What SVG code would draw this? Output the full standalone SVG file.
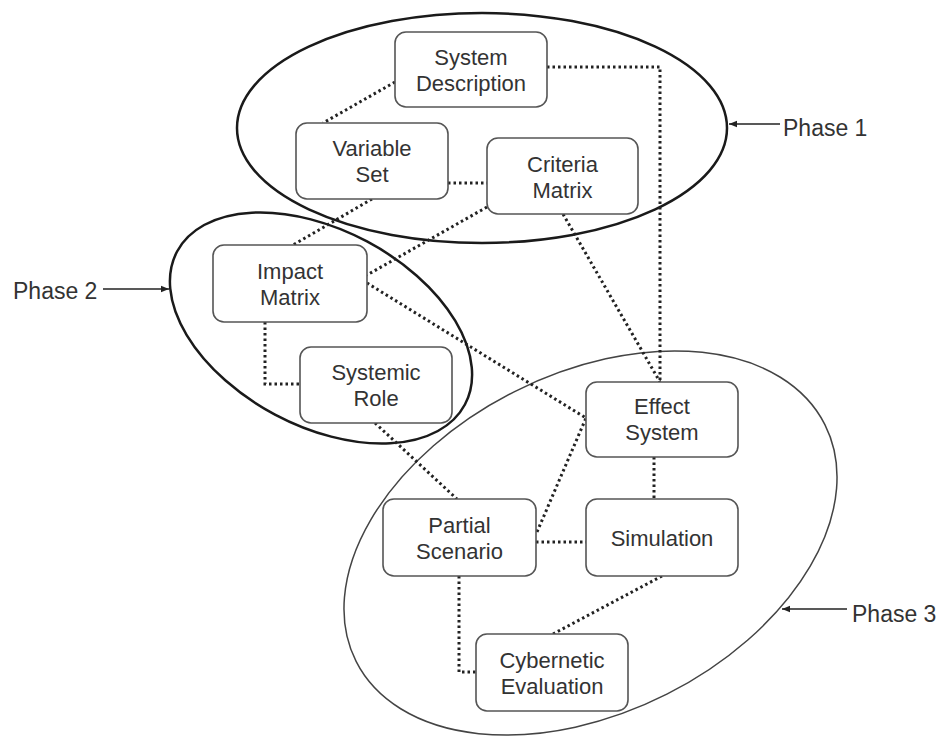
<svg xmlns="http://www.w3.org/2000/svg" width="939" height="736" viewBox="0 0 939 736">
  <defs>
    <style>
      .phase-thick { fill: none; stroke: #1a1a1a; stroke-width: 2.5; }
      .phase-thin { fill: none; stroke: #444; stroke-width: 1.5; }
      .box { fill: #fff; stroke: #555; stroke-width: 1.6; }
      .label { font-family: "Liberation Sans", Arial, sans-serif; font-size: 22px; fill: #333; text-anchor: middle; }
      .plabel { font-family: "Liberation Sans", Arial, sans-serif; font-size: 23px; fill: #333; }
      .conn { fill: none; stroke: #222; stroke-width: 3; stroke-dasharray: 2.5 3; }
      .arrow { fill: none; stroke: #222; stroke-width: 1.5; }
    </style>
    <marker id="ah" viewBox="0 0 10 10" refX="10" refY="5" markerWidth="8" markerHeight="8" markerUnits="userSpaceOnUse" orient="auto">
      <path d="M0,1 L10,5 L0,9 Z" fill="#222"/>
    </marker>
  </defs>
  <rect width="939" height="736" fill="#fff"/>

  <g id="phases">
    <ellipse id="phase1-ellipse" class="phase-thick" cx="482" cy="128" rx="245" ry="115"/>
    <ellipse id="phase2-ellipse" class="phase-thick" cx="321" cy="328" rx="163" ry="98" transform="rotate(28 321 328)"/>
    <ellipse id="phase3-ellipse" class="phase-thin" cx="590.5" cy="543" rx="262.6" ry="169.4" transform="rotate(-26.8 590.5 543)"/>
  </g>

  <g id="phase-labels">
    <g id="phase1-label">
      <line class="arrow" x1="780" y1="124" x2="729" y2="124" marker-end="url(#ah)"/>
      <text class="plabel" x="783" y="136">Phase 1</text>
    </g>
    <g id="phase2-label">
      <line class="arrow" x1="103" y1="289" x2="169" y2="289" marker-end="url(#ah)"/>
      <text class="plabel" x="13" y="299">Phase 2</text>
    </g>
    <g id="phase3-label">
      <line class="arrow" x1="847" y1="609" x2="782" y2="609" marker-end="url(#ah)"/>
      <text class="plabel" x="852" y="622">Phase 3</text>
    </g>
  </g>

  <g id="connectors">
    <line class="conn" x1="395" y1="82" x2="323" y2="123"/>
    <polyline class="conn" points="547,67 660,67 660,382"/>
    <line class="conn" x1="448" y1="183" x2="487" y2="183"/>
    <line class="conn" x1="372" y1="199" x2="293" y2="245"/>
    <line class="conn" x1="487" y1="207" x2="367" y2="275"/>
    <line class="conn" x1="563" y1="214" x2="660" y2="382"/>
    <line class="conn" x1="367" y1="283" x2="586" y2="418"/>
    <polyline class="conn" points="265,322 265,384 300,384"/>
    <line class="conn" x1="375" y1="423" x2="457" y2="499"/>
    <line class="conn" x1="537" y1="532" x2="586" y2="418"/>
    <line class="conn" x1="536" y1="542" x2="586" y2="542"/>
    <line class="conn" x1="654" y1="457" x2="654" y2="499"/>
    <line class="conn" x1="662" y1="576" x2="553" y2="634"/>
    <polyline class="conn" points="459,576 459,672 476,672"/>
  </g>

  <g id="system-description">
    <rect class="box" x="395" y="32" width="152" height="75" rx="11"/>
    <text class="label" x="471" y="65">System</text>
    <text class="label" x="471" y="91">Description</text>
  </g>
  <g id="variable-set">
    <rect class="box" x="296" y="123" width="152" height="76" rx="11"/>
    <text class="label" x="372" y="156">Variable</text>
    <text class="label" x="372" y="182">Set</text>
  </g>
  <g id="criteria-matrix">
    <rect class="box" x="487" y="138" width="151" height="76" rx="11"/>
    <text class="label" x="562.5" y="172">Criteria</text>
    <text class="label" x="562.5" y="198">Matrix</text>
  </g>
  <g id="impact-matrix">
    <rect class="box" x="213" y="245" width="154" height="77" rx="11"/>
    <text class="label" x="290" y="279">Impact</text>
    <text class="label" x="290" y="305">Matrix</text>
  </g>
  <g id="systemic-role">
    <rect class="box" x="300" y="347" width="152" height="76" rx="11"/>
    <text class="label" x="376" y="380">Systemic</text>
    <text class="label" x="376" y="406">Role</text>
  </g>
  <g id="effect-system">
    <rect class="box" x="586" y="382" width="152" height="75" rx="11"/>
    <text class="label" x="662" y="414">Effect</text>
    <text class="label" x="662" y="440">System</text>
  </g>
  <g id="partial-scenario">
    <rect class="box" x="383" y="499" width="153" height="77" rx="11"/>
    <text class="label" x="459.5" y="533">Partial</text>
    <text class="label" x="459.5" y="559">Scenario</text>
  </g>
  <g id="simulation">
    <rect class="box" x="586" y="499" width="152" height="77" rx="11"/>
    <text class="label" x="662" y="545.5">Simulation</text>
  </g>
  <g id="cybernetic-evaluation">
    <rect class="box" x="476" y="634" width="152" height="77" rx="11"/>
    <text class="label" x="552" y="668">Cybernetic</text>
    <text class="label" x="552" y="694">Evaluation</text>
  </g>
</svg>
